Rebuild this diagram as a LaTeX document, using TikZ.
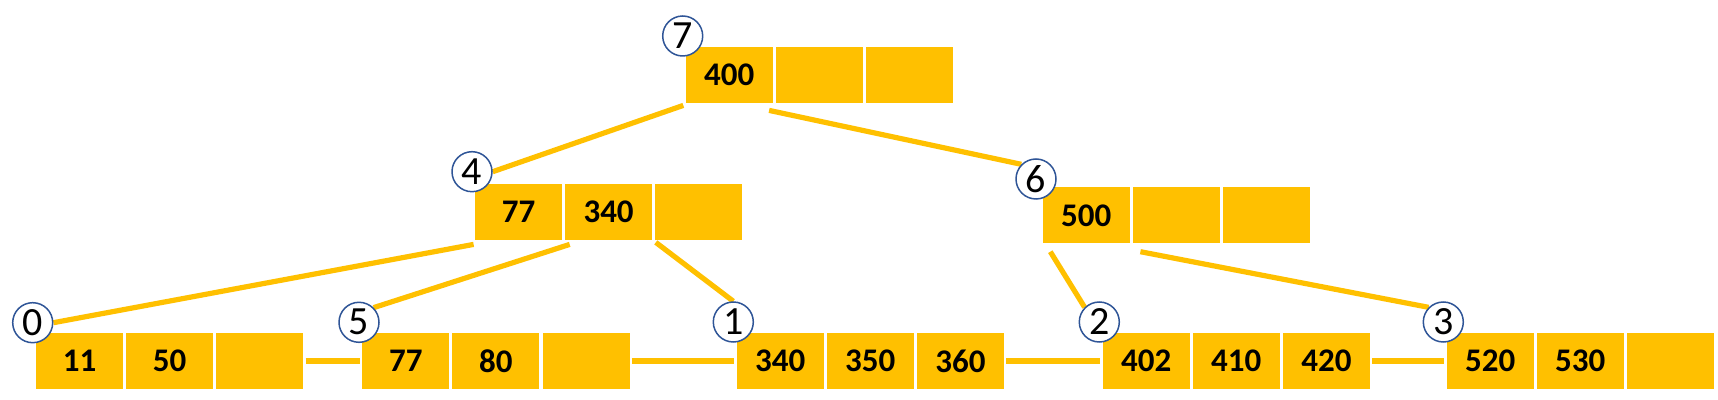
\documentclass[tikz,border=0pt]{standalone}
\usepackage{fontspec}
\setmainfont{Carlito}
\usetikzlibrary{positioning}
\usetikzlibrary{backgrounds}
\definecolor{gold}{HTML}{FFC000}
\definecolor{ringblue}{HTML}{2F5597}

\begin{document}
\begin{tikzpicture}[x=0.5pt, y=-0.5pt,
  cell/.style={fill=gold, minimum width=43.5pt, minimum height=28pt, inner sep=0,
    font=\fontsize{16.5}{16.5}\selectfont\bfseries},
  ring/.style={circle, draw=ringblue, line width=0.75pt, fill=white, minimum size=20pt,
    inner sep=0, font=\fontsize{20}{20}\selectfont},
  link/.style={draw=gold, line width=2.6pt}]
\useasboundingbox (0,0) rectangle (1718,400);
% tree nodes: name / left / top / keys
\foreach \n/\x/\y/\a/\b/\c in {7/685.7/47/400//, 4/475/184/77/340/, 6/1042.7/187.3/500//,
  0/36/333/11/50/, 5/362.3/333/77/80/, 1/736.7/333/340/350/360,
  2/1102.7/333/402/410/420, 3/1446.7/333/520/530/} {
 \node[cell] (k\n-1) at (\x+43.5,\y+28) {\a};
 \node[cell, right=1.15pt of k\n-1] (k\n-2) {\b};
 \node[cell, right=1.15pt of k\n-2] (k\n-3) {\c};
}
% page numbers
\foreach \n/\cx/\cy in {7/682.7/36, 4/472/171.7, 6/1036/179, 0/32.7/322.7,
  5/359/322.3, 1/733.3/322, 2/1099.3/322, 3/1443.3/322}
 \node[ring] (c\n) at (\cx,\cy) {\n};
\begin{scope}[on background layer]
\draw[link] ([shift={(-2,2)}]k7-1.south west) -- (c4.east);
\draw[link] ([shift={(-4,7)}]k7-1.south east) -- (c6.north west);
\draw[link] ([shift={(-1,4)}]k4-1.south west) -- (c0.east);
\draw[link] ([shift={(5,4)}]k4-2.south west) -- (c5.north east);
\draw[link] ([shift={(1,2)}]k4-3.south west) -- (c1.north);
\draw[link] ([shift={(8,8)}]k6-1.south west) -- (c2.north west);
\draw[link] ([shift={(8,8)}]k6-2.south west) -- (c3.north west);
% leaf chain
\foreach \p/\q in {0/5, 5/1, 1/2, 2/3}
 \draw[link] ([xshift=1]k\p-3.east) -- ([xshift=-1]k\q-1.west);
\end{scope}
\end{tikzpicture}
\end{document}
